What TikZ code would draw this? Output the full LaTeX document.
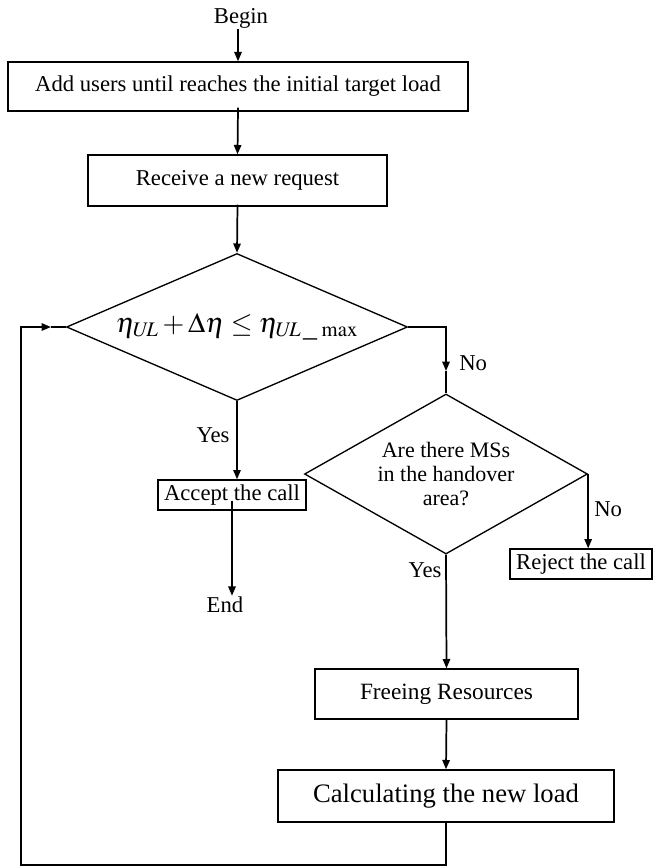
\documentclass[tikz,border=0pt]{standalone}
\usepackage{mathptmx}
\usepackage{fontspec}
\setmainfont{Liberation Serif}
\usetikzlibrary{arrows.meta,shapes.geometric}

\tikzset{
  box/.style={draw, line width=1pt, inner sep=0pt, align=center},
  decision/.style={draw, diamond, line width=1pt, inner sep=0pt, align=center},
  flow/.style={line width=1.3pt, -{Triangle[length=7pt,width=5.5pt]}},
  plain/.style={line width=1.3pt},
  lbl/.style={inner sep=0.75pt}
}

\begin{document}
\begin{tikzpicture}[x=0.75pt,y=0.75pt,yscale=-1,xscale=1,font=\fontsize{17}{18}\selectfont]
\path [use as bounding box] (0,0) rectangle (653,867);

% Text Node
\node [lbl] (begin) at (241,18) {Begin};
%Shape: Rectangle
\node [box, minimum width=345pt, minimum height=36.75pt] (adduser) at (238,86.5) {Add users until reaches the initial target load};
%Shape: Rectangle
\node [box, minimum width=224.25pt, minimum height=38.25pt] (receive) at (237.5,180.5) {Receive a new request};
%Shape: Diamond
\node [decision, aspect=2.32, minimum width=255.75pt, minimum height=110.25pt, font=\fontsize{21}{24}\selectfont] (check) at (237,327) {$\eta_{U\!L}+\Delta\eta\le\eta_{U\!L\,\_\,\max}$};
%Shape: Rectangle
\node [box, minimum width=111pt, minimum height=22.5pt] (accept) at (232,495) {Accept the call};
% Text Node
\node [lbl] (finish) at (225,605) {End};
%Shape: Diamond
\node [decision, aspect=1.77, minimum width=212.25pt, minimum height=120pt, font=\fontsize{16.5}{18}\selectfont] (handover) at (446,474) {Are there MSs\\in the handover\\area?};
%Shape: Rectangle
\node [box, minimum width=106.5pt, minimum height=22.5pt] (reject) at (581,564) {Reject the call};
%Shape: Rectangle
\node [box, minimum width=197.25pt, minimum height=37.5pt, font=\fontsize{17.5}{20}\selectfont] (free) at (446.5,694) {Freeing Resources};
%Shape: Rectangle
\node [box, minimum width=252pt, minimum height=39pt, font=\fontsize{20}{23}\selectfont] (calc) at (446,796) {Calculating the new load};

% Text Node
\node [lbl] (yesleft) at (213,435) {Yes};
% Text Node
\node [lbl, anchor=west] (noleft) at (458,363) {No};
% Text Node
\node [lbl, anchor=west] (noright) at (593,509) {No};
% Text Node
\node [lbl] (yesright) at (425,570) {Yes};

% Turning points
\coordinate (turn) at (446,327);
\coordinate (notip) at (446,371);
\coordinate (loopr) at (446,865);
\coordinate (loopl) at (21,865);
\coordinate (loopt) at (21,327);
\coordinate (looptip) at (51,327);

%Straight Lines
\draw [flow] (adduser.north |- begin.south) -- (adduser.north);
%Straight Lines
\draw [flow] ([yshift=-3pt]adduser.south) -- (receive.north);
%Straight Lines
\draw [flow] ([yshift=-1.5pt]receive.south) -- (check.north);
%Straight Lines
\draw [flow] (check.south) -- (check.south |- accept.north);
%Straight Lines
\draw [flow] ([yshift=-7.5pt]accept.south) -- (accept.south |- finish.north);
%Straight Lines
\draw [flow] (check.east) -- (turn) -- (notip);
\draw [plain] (notip) -- (handover.north);
%Straight Lines
\draw [flow] (handover.east) -- (handover.east |- reject.north);
%Straight Lines
\draw [flow] (handover.south) -- (free.north);
%Straight Lines
\draw [flow] (free.south) -- (calc.north);
%Straight Lines
\draw [flow] (calc.south) -- (loopr) -- (loopl) -- (loopt) -- (looptip);
\draw [plain] (looptip) -- (check.west);

\end{tikzpicture}
\end{document}
